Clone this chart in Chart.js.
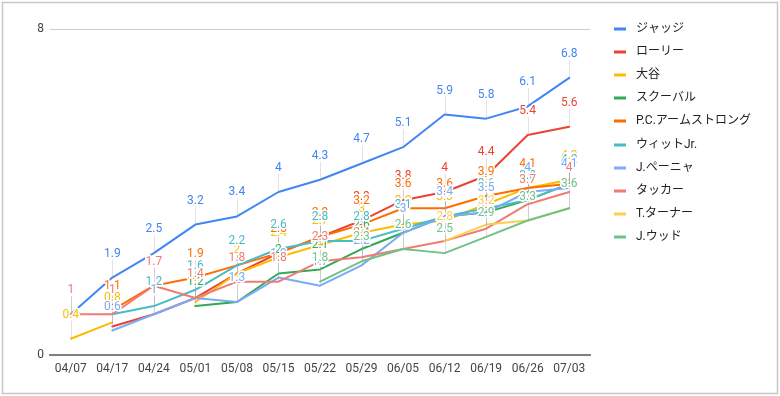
<!DOCTYPE html>
<html><head><meta charset="utf-8">
<script src="https://cdn.jsdelivr.net/npm/chart.js@4"></script>
<style>html,body{margin:0;padding:0;background:#fff}canvas{display:block}</style>
</head><body>
<canvas id="c" width="780" height="396"></canvas>
<script>
const categories = ['04/07','04/17','04/24','05/01','05/08','05/15','05/22','05/29','06/05','06/12','06/19','06/26','07/03'];
const seriesNames = ['ジャッジ','ローリー','大谷','スクーバル','P.C.アームストロング','ウィットJr.','J.ペーニャ','タッカー','T.ターナー','J.ウッド'];
const judge     = [1, 1.9, 2.5, 3.2, 3.4, 4, 4.3, 4.7, 5.1, 5.9, 5.8, 6.1, 6.8];
const raleigh   = [null, 0.7, 1, 1.4, 2, 2.5, 2.9, 3.3, 3.8, 4, 4.4, 5.4, 5.6];
const ohtani    = [0.4, 0.8, null, 1.3, 2, 2.4, 2.7, 3, 3.2, 3.3, 3.7, 4.1, 4.3];
const skubal    = [null, null, null, 1.2, 1.3, 2, 2.1, 2.6, 3, 3.4, 3.5, 3.8, 4.2];
const armstrong = [null, 1.1, 1.7, 1.9, 2.2, 2.5, 2.9, 3.2, 3.6, 3.6, 3.9, 4.1, 4.2];
const witt      = [null, 1, 1.2, 1.6, 2.2, 2.6, 2.8, 2.8, 3.1, 3.4, 3.6, 3.8, 4.2];
const pena      = [null, 0.6, 1, 1.4, 1.3, 1.9, 1.7, 2.2, 3, 3.4, 3.5, 4, 4.1];
const tucker    = [1, 1, 1.7, 1.4, 1.8, 1.8, 2.3, 2.4, 2.6, 2.8, 3.1, 3.7, 4];
const turner    = [null, null, null, null, null, null, null, null, null, 2.8, 3.2, 3.3, 3.6];
const wood      = [null, null, null, null, null, null, 1.8, 2.3, 2.6, 2.5, 2.9, 3.3, 3.6];
const yTicks = [0, 8];

const seriesValues = [judge, raleigh, ohtani, skubal, armstrong, witt, pena, tucker, turner, wood];
const colors = ['#4285F4','#EA4335','#FBBC04','#34A853','#FF6D01','#46BDC6','#7BAAF7','#F07B72','#FCD04F','#71C287'];
const FONT = 'Roboto, "Noto Sans CJK JP", sans-serif';
const N = seriesValues.length;

const datasets = seriesValues.map((d, i) => ({
  label: seriesNames[i],
  data: d,
  borderColor: colors[i],
  backgroundColor: colors[i],
  borderWidth: 2,
  pointRadius: 0,
  pointHoverRadius: 0,
  tension: 0,
  fill: false,
  spanGaps: false,
  borderJoinStyle: 'round',
  borderCapStyle: 'round',
  order: N - i
}));

const framePlugin = {
  id: 'frame',
  beforeDraw(chart) {
    const ctx = chart.ctx;
    ctx.save();
    ctx.fillStyle = '#fff';
    ctx.fillRect(0, 0, chart.width, chart.height);
    ctx.strokeStyle = '#c6c6c6';
    ctx.lineWidth = 1.5;
    ctx.strokeRect(2.5, 2.5, 775, 391);
    ctx.restore();
  }
};

const annotPlugin = {
  id: 'annot',
  afterDatasetsDraw(chart) {
    const ctx = chart.ctx;
    ctx.save();
    chart.data.datasets.forEach((ds, i) => {
      const meta = chart.getDatasetMeta(i);
      meta.data.forEach((pt, j) => {
        if (ds.data[j] == null) return;
        const x = Math.round(pt.x) + 0.5;
        ctx.strokeStyle = 'rgba(160,160,160,0.3)';
        ctx.lineWidth = 1;
        ctx.beginPath();
        ctx.moveTo(x, pt.y);
        ctx.lineTo(x, pt.y - 18);
        ctx.stroke();
      });
    });
    ctx.font = '12px ' + FONT;
    ctx.textAlign = 'center';
    ctx.textBaseline = 'middle';
    ctx.lineJoin = 'round';
    chart.data.datasets.forEach((ds, i) => {
      const meta = chart.getDatasetMeta(i);
      meta.data.forEach((pt, j) => {
        const v = ds.data[j];
        if (v == null) return;
        const y = pt.y - 24;
        const t = String(v);
        ctx.lineWidth = 3;
        ctx.strokeStyle = '#fff';
        ctx.strokeText(t, pt.x, y);
        ctx.fillStyle = ds.borderColor;
        ctx.fillText(t, pt.x, y);
      });
    });
    ctx.restore();
  }
};

const legendPlugin = {
  id: 'sideLegend',
  afterDraw(chart) {
    const ctx = chart.ctx;
    ctx.save();
    ctx.font = '12px ' + FONT;
    ctx.textAlign = 'left';
    ctx.textBaseline = 'middle';
    chart.data.datasets.forEach((ds, i) => {
      const y = 29 + i * 23.1;
      ctx.fillStyle = ds.borderColor;
      ctx.fillRect(614, Math.round(y) - 1.5, 12, 3);
      ctx.fillStyle = '#222';
      ctx.fillText(ds.label, 636, y);
    });
    ctx.restore();
  }
};

new Chart(document.getElementById('c'), {
  type: 'line',
  data: { labels: categories, datasets },
  plugins: [framePlugin, annotPlugin, legendPlugin],
  options: {
    responsive: false,
    animation: false,
    devicePixelRatio: 1,
    layout: { padding: { left: 0, right: 190, top: 29, bottom: 11 } },
    plugins: { legend: { display: false }, tooltip: { enabled: false } },
    scales: {
      x: {
        offset: true,
        grid: { display: false, drawTicks: false },
        border: { display: true, color: '#808080', width: 2 },
        ticks: { color: '#444', font: { size: 12, family: FONT }, padding: 7, maxRotation: 0, autoSkip: false },
        afterFit(s) { s.height = 30; }
      },
      y: {
        min: yTicks[0], max: yTicks[yTicks.length - 1],
        afterBuildTicks(s) { s.ticks = yTicks.map(v => ({ value: v })); },
        ticks: { color: '#444', font: { size: 12, family: FONT }, padding: 6 },
        grid: { drawTicks: false, color: c => (c.tick && c.tick.value === 0) ? 'rgba(0,0,0,0)' : '#cccccc', lineWidth: 1 },
        border: { display: false },
        afterFit(s) { s.width = 50; }
      }
    }
  }
});
</script>
</body></html>
